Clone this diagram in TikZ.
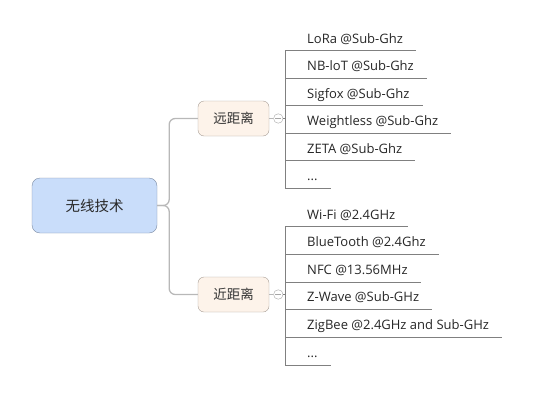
\documentclass[tikz,border=0pt]{standalone}
\usepackage{fontspec}
\setmainfont{Open Sans}
\newfontfamily\cjk{Noto Sans CJK SC}
\usepackage{tikz}
\usetikzlibrary{positioning}
\definecolor{rootfill}{HTML}{C9DDFA}
\definecolor{rootline}{HTML}{7C8BA3}
\definecolor{topicfill}{HTML}{FDF3EA}
\definecolor{topicline}{HTML}{A69D95}
\definecolor{linkgray}{HTML}{B8B8B8}
\definecolor{leafgray}{HTML}{808080}
\definecolor{textgray}{HTML}{333333}
\tikzstyle{root} = [rectangle, rounded corners = 8, minimum width = 125,
  minimum height = 55, draw = rootline, fill = rootfill, text = textgray!80!black,
  font = \cjk\fontsize{14.5}{16}\selectfont]
\tikzstyle{topic} = [
  rectangle, rounded corners = 6,
  minimum width = 71, minimum height = 35,
  draw = topicline, fill = topicfill, text = textgray,
  font = \cjk\fontsize{13.5}{16}\selectfont
]
\tikzstyle{fold} = [circle, draw = leafgray!70, fill = white, minimum size = 9.5,
  inner sep = 0]
\tikzstyle{leaf} = [anchor = south west, inner xsep = 0, inner ysep = 4.4,
  text height = 9.5, text depth = 3, text = black!85,
  font = \fontsize{13}{15}\selectfont]
\tikzstyle{link} = [draw = linkgray, line width = 1.3]
\tikzstyle{uline} = [draw = leafgray, line width = 0.9]

\begin{document}
\begin{tikzpicture}[x = 1pt, y = -1pt]
      \useasboundingbox (0, 0) rectangle (534, 412);
      % root
      \node [root] (root) at (94.5, 205.5) {无线技术};
      % topics
      \node [topic] (far) at (233.5, 118.5) {远距离};
      \node [topic] (near) at (233.5, 294.5) {近距离};
      \draw [link, rounded corners = 6] (root.east) -- ++(12, 0) |- (far.west);
      \draw [link, rounded corners = 6] (root.east) -- ++(12, 0) |- (near.west);
      % far
      \node [fold] (far-fold) at (278.3, 118.5) {};
      \coordinate (far-top) at (285, 50.7);
      \coordinate (far-bot) at (285, 188.3);
      \draw [link] (far) -- (far-fold);
      \draw [leafgray!70] ([xshift = 2] far-fold.west) -- ([xshift = -2] far-fold.east);
      \draw [uline] (far-fold.east) -- (far-fold.east -| far-top);
      \draw [uline] (far-top) -- (far-bot);
      \node [leaf] (lora) at (307, 50.7) {LoRa @Sub-Ghz};
      \node [leaf] (nbiot) at (307, 78.3) {NB-loT @Sub-Ghz};
      \node [leaf] (sigfox) at (307, 105.7) {Sigfox @Sub-Ghz};
      \node [leaf] (weightless) at (307, 133.3) {Weightless @Sub-Ghz};
      \node [leaf] (zeta) at (307, 160.7) {ZETA @Sub-Ghz};
      \node [leaf] (far-more) at (307, 188.3) {...};
      \draw [uline] (lora.south -| far-top) -- ([xshift = 13] lora.south east);
      \draw [uline] (nbiot.south -| far-top) -- ([xshift = 13] nbiot.south east);
      \draw [uline] (sigfox.south -| far-top) -- ([xshift = 13] sigfox.south east);
      \draw [uline] (weightless.south -| far-top) --
      ([xshift = 13] weightless.south east);
      \draw [uline] (zeta.south -| far-top) -- ([xshift = 13] zeta.south east);
      \draw [uline] (far-more.south -| far-top) -- ([xshift = 13] far-more.south east);
      % near
      \node [fold] (near-fold) at (278.3, 294.5) {};
      \coordinate (near-top) at (285, 226.7);
      \coordinate (near-bot) at (285, 365);
      \draw [link] (near) -- (near-fold);
      \draw [leafgray!70] ([xshift = 2] near-fold.west) -- ([xshift = -2] near-fold.east);
      \draw [uline] (near-fold.east) -- (near-fold.east -| near-top);
      \draw [uline] (near-top) -- (near-bot);
      \node [leaf] (wifi) at (307, 226.7) {Wi-Fi @2.4GHz};
      \node [leaf] (bluetooth) at (307, 254.3) {BlueTooth @2.4Ghz};
      \node [leaf] (nfc) at (307, 282.3) {NFC @13.56MHz};
      \node [leaf] (zwave) at (307, 309.3) {Z-Wave @Sub-GHz};
      \node [leaf] (zigbee) at (307, 337.3) {ZigBee @2.4GHz and Sub-GHz};
      \node [leaf] (near-more) at (307, 365) {...};
      \draw [uline] (wifi.south -| near-top) -- ([xshift = 13] wifi.south east);
      \draw [uline] (bluetooth.south -| near-top) --
      ([xshift = 13] bluetooth.south east);
      \draw [uline] (nfc.south -| near-top) -- ([xshift = 13] nfc.south east);
      \draw [uline] (zwave.south -| near-top) -- ([xshift = 13] zwave.south east);
      \draw [uline] (zigbee.south -| near-top) -- ([xshift = 13] zigbee.south east);
      \draw [uline] (near-more.south -| near-top) --
      ([xshift = 13] near-more.south east);
    \end{tikzpicture}
\end{document}
